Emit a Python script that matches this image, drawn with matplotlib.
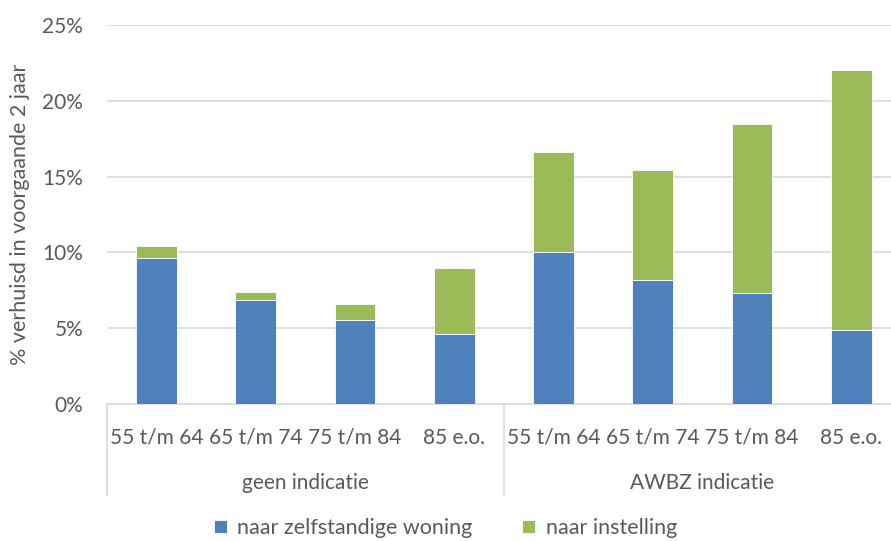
import numpy as np
import matplotlib.pyplot as plt
import matplotlib.transforms as mtransforms

# data (percent)
age_groups = ["55 t/m 64", "65 t/m 74", "75 t/m 84", "85 e.o."]
groups = ["geen indicatie", "AWBZ indicatie"]
zelfstandig = [9.65, 6.85, 5.55, 4.65, 10.05, 8.2, 7.3, 4.9]
totaal = [10.45, 7.4, 6.6, 9.0, 16.6, 15.45, 18.5, 22.0]
instelling = [t - z for t, z in zip(totaal, zelfstandig)]

blue = "#4f81bd"
green = "#9bbb59"
grey_txt = "#595959"
grid_col = "#d9d9d9"
fs = 15

plt.rcParams['font.family'] = ['Lato', 'DejaVu Sans']

fig = plt.figure(figsize=(8.91, 5.41), dpi=100)
# axes runs a little past the right edge, like the reference
ax = fig.add_axes([0.120, 0.2532, 0.891, 0.7006])

x = np.arange(len(zelfstandig))
ax.bar(x, zelfstandig, width=0.41, color=blue, edgecolor="white", linewidth=0.6,
       label="naar zelfstandige woning", zorder=3)
ax.bar(x, instelling, width=0.41, bottom=zelfstandig, color=green, edgecolor="white",
       linewidth=0.6, label="naar instelling", zorder=3)

ax.set_xlim(-0.5, len(x) - 0.5)
ax.set_ylim(0, 25)
ax.set_yticks([0, 5, 10, 15, 20, 25])
ax.set_yticklabels([f"{v}%" for v in [0, 5, 10, 15, 20, 25]])
ax.yaxis.grid(True, color=grid_col, linewidth=1.2, zorder=0)
ax.set_axisbelow(True)

for s in ["top", "right", "left"]:
    ax.spines[s].set_visible(False)
ax.spines["bottom"].set_color(grid_col)
ax.spines["bottom"].set_linewidth(1.2)

ax.tick_params(axis="y", length=0, labelsize=fs, colors=grey_txt, pad=17)
ax.set_xticks(x)
ax.set_xticklabels(age_groups * 2)
ax.tick_params(axis="x", length=0, labelsize=fs, colors=grey_txt, pad=17)

ax.set_ylabel("% verhuisd in voorgaande 2 jaar", fontsize=15.5, color=grey_txt, labelpad=9)

# second level of category axis
trans = mtransforms.blended_transform_factory(ax.transData, ax.transAxes)
for xs in [-0.5, 3.5]:
    ax.plot([xs, xs], [0, -0.24], transform=trans, color=grid_col, linewidth=1.2,
            clip_on=False)
for i, g in enumerate(groups):
    ax.text(i * 4 + 1.5, -0.208, g, transform=trans, ha="center", va="center",
            fontsize=fs, color=grey_txt)

fig.legend(loc="center", bbox_to_anchor=(0.5, 13 / 541), ncol=2, frameon=False,
           fontsize=15.5, labelcolor=grey_txt, handlelength=0.6, handleheight=0.6,
           columnspacing=2.3, handletextpad=0.5, borderpad=0.1)

fig.savefig("out.png", dpi=100)
